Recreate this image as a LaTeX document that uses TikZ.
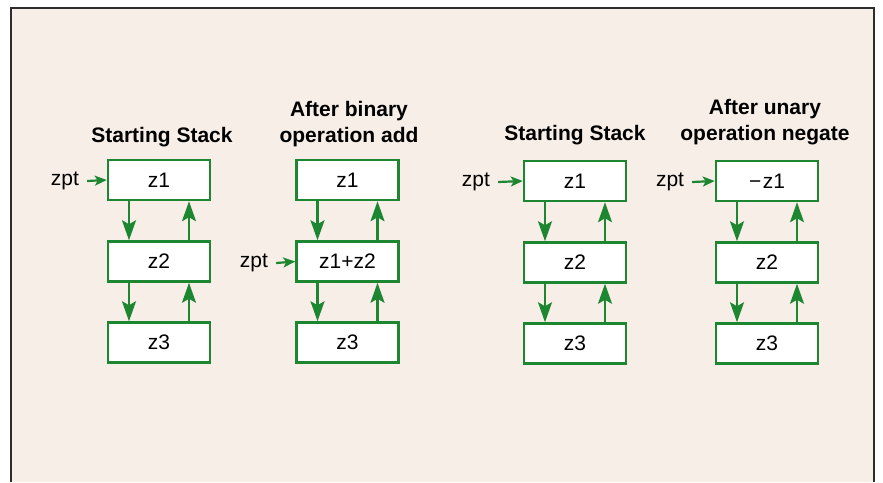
\documentclass[tikz,border=0pt]{standalone}
\usepackage{fontspec}
\setmainfont{Liberation Sans}
\usetikzlibrary{arrows.meta}
\definecolor{boxgreen}{RGB}{28,135,48}
\definecolor{paper}{RGB}{247,238,232}
\definecolor{framegray}{RGB}{45,45,45}
\tikzset{
  stackbox/.style={draw=boxgreen, line width=2.5pt, fill=white, minimum width=102pt, minimum height=40pt, inner sep=0pt, font=\fontsize{21}{24}\selectfont},
  titletext/.style={anchor=base, font=\fontsize{21}{25}\selectfont\bfseries, inner sep=0pt},
  ptrtext/.style={font=\fontsize{21}{24}\selectfont, inner sep=0pt},
  vlink/.style={draw=boxgreen, line width=2.2pt, -{Stealth[length=20pt,width=14pt,inset=4pt]}},
  plink/.style={draw=boxgreen, line width=2.2pt, -{Stealth[length=12pt,width=10pt,inset=3pt]}},
}
\begin{document}
\begin{tikzpicture}[x=1pt,y=-1pt]
\useasboundingbox (0,0) rectangle (883,482);
\fill[white] (0,0) rectangle (883,482);
\fill[paper] (11,8) rectangle (874,482);
\draw[framegray, line width=2pt] (11,482) -- (11,8) -- (874,8) -- (874,482);

% titles
\node[titletext] (t1) at (162,142) {Starting Stack};
\node[titletext] (t2a) at (349,116) {After binary};
\node[titletext] (t2b) at (349,142) {operation add};
\node[titletext] (t3) at (575,140) {Starting Stack};
\node[titletext] (t4a) at (765,114) {After unary};
\node[titletext] (t4b) at (765,140) {operation negate};

% column 1
\node[stackbox] (a1) at (159,180) {z1};
\node[stackbox] (a2) at (159,261.5) {z2};
\node[stackbox] (a3) at (159,342.5) {z3};
% column 2
\node[stackbox] (b1) at (347.5,180) {z1};
\node[stackbox] (b2) at (347.5,261.5) {z1+z2};
\node[stackbox] (b3) at (347.5,342.5) {z3};
% column 3
\node[stackbox] (c1) at (575,181) {z1};
\node[stackbox] (c2) at (575,262.5) {z2};
\node[stackbox] (c3) at (575,343.5) {z3};
% column 4
\node[stackbox] (d1) at (767,181) {−\kern1.5pt z1};
\node[stackbox] (d2) at (767,262.5) {z2};
\node[stackbox] (d3) at (767,343.5) {z3};

% links
\foreach \p in {a,b,c,d}{
  \draw[vlink] ([xshift=-30pt]\p1.south) -- ([xshift=-30pt]\p2.north);
  \draw[vlink] ([xshift=-30pt]\p2.south) -- ([xshift=-30pt]\p3.north);
  \draw[vlink] ([xshift=30pt]\p2.north) -- ([xshift=30pt]\p1.south);
  \draw[vlink] ([xshift=30pt]\p3.north) -- ([xshift=30pt]\p2.south);
}

% zpt pointers
\node[ptrtext] (pa) at (65,181) {zpt};
\node[ptrtext] (pb) at (254,263) {zpt};
\node[ptrtext] (pc) at (476,182) {zpt};
\node[ptrtext] (pd) at (670,182) {zpt};
\draw[plink] ([xshift=8pt]pa.east) -- (a1.west);
\draw[plink] ([xshift=8pt]pb.east) -- (b2.west);
\draw[plink] ([xshift=8pt]pc.east) -- (c1.west);
\draw[plink] ([xshift=8pt]pd.east) -- (d1.west);
\end{tikzpicture}
\end{document}
